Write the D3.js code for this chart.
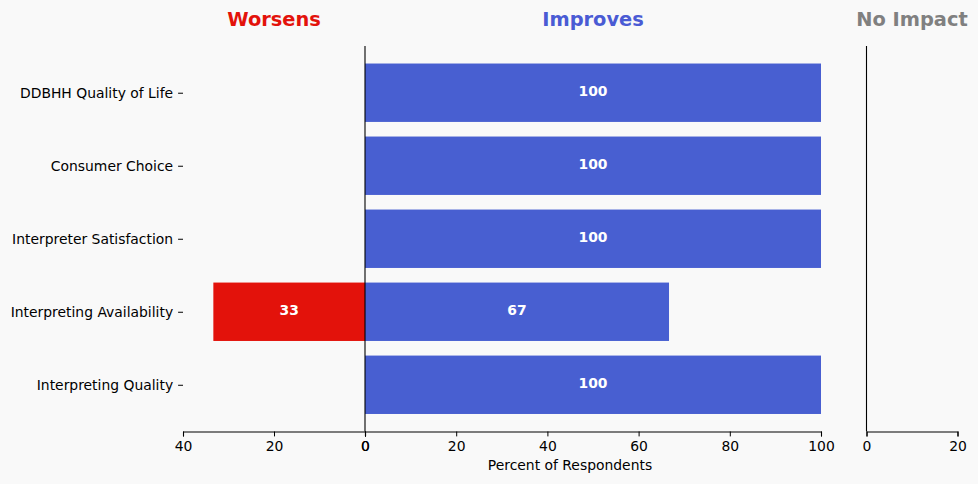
<!DOCTYPE html>
<html><head><meta charset="utf-8">
<script src="https://cdn.jsdelivr.net/npm/d3@7"></script>
<style>
body{margin:0;background:#f9f9f9;}
svg{display:block;font-family:"DejaVu Sans",sans-serif;}
</style></head>
<body><svg id="c" width="978" height="484"></svg>
<script>
const categories = ["DDBHH Quality of Life","Consumer Choice","Interpreter Satisfaction","Interpreting Availability","Interpreting Quality"];
const worsens = [0,0,0,33.33,0];
const improves = [100,100,100,66.67,100];
const noImpact = [0,0,0,0,0];
const panelTitles = ["Worsens","Improves","No Impact"];
const leftTicks = [40,20,0];
const midTicks = [0,20,40,60,80,100];
const rightTicks = [0,20];

(function(){
const svg = d3.select("#c");
svg.append("rect").attr("width",978).attr("height",484).attr("fill","#f9f9f9");
const plotTop = 46, plotBottom = 431.5;
const y = d3.scaleLinear().domain([-0.64,4.64]).range([plotTop,plotBottom]);
const xL = d3.scaleLinear().domain([40,0]).range([183,365]);
const xM = d3.scaleLinear().domain([0,100]).range([365,821]);
const xR = d3.scaleLinear().domain([0,20]).range([866.5,957.5]);
const red="#e3120b", blue="#485fd1", fs=13.9, tk=4.9;

function bars(data,x,color){
  const g=svg.append("g");
  categories.forEach((c,i)=>{
    const v=data[i]; if(!v) return;
    const x0=x(0), x1=x(v);
    g.append("rect").attr("x",Math.min(x0,x1)).attr("width",Math.abs(x1-x0))
     .attr("y",y(i-0.4)).attr("height",y(i+0.4)-y(i-0.4)).attr("fill",color);
    g.append("text").attr("x",(x0+x1)/2).attr("y",y(i)).attr("dy","0.25em")
     .attr("text-anchor","middle").attr("fill","white").attr("font-weight","bold")
     .attr("font-size",fs).text(Math.round(v));
  });
}
bars(worsens,xL,red);
bars(improves,xM,blue);
bars(noImpact,xR,"#808080");

function xaxis(x,ticks){
  const g=svg.append("g").attr("transform",`translate(0,${plotBottom})`)
    .call(d3.axisBottom(x).tickValues(ticks).tickSize(tk).tickPadding(4.5).tickFormat(d3.format("d")));
  g.select(".domain").attr("stroke","#000").attr("stroke-width",1.1);
  g.selectAll(".tick line").attr("stroke","#000");
  g.selectAll("text").attr("font-size",fs).attr("fill","#000").attr("font-family","DejaVu Sans");
}
xaxis(xL,leftTicks); xaxis(xM,midTicks); xaxis(xR,rightTicks);

[xM(0),xR(0)].forEach(px=>{
  svg.append("line").attr("x1",px).attr("x2",px).attr("y1",plotTop).attr("y2",plotBottom)
    .attr("stroke","#000").attr("stroke-width",1.1);
});

const ya=svg.append("g").attr("transform","translate(183,0)")
 .call(d3.axisLeft(y).tickValues(d3.range(categories.length)).tickSize(tk).tickPadding(5).tickFormat(i=>categories[i]));
ya.select(".domain").remove();
ya.selectAll(".tick line").attr("stroke","#000");
ya.selectAll("text").attr("font-size",fs).attr("fill","#000").attr("font-family","DejaVu Sans");

svg.append("text").attr("x",570).attr("y",470).attr("text-anchor","middle")
  .attr("font-size",fs).attr("fill","#000").text("Percent of Respondents");

const titleX=[(xL.range()[0]+xL.range()[1])/2, xM(50), (xR.range()[0]+xR.range()[1])/2];
const titleC=[red,"#4a5bd4","#808080"];
panelTitles.forEach((t,i)=>{
  svg.append("text").attr("x",titleX[i]).attr("y",25.5).attr("text-anchor","middle")
   .attr("font-size",19.4).attr("font-weight","bold").attr("fill",titleC[i]).text(t);
});
})();
</script></body></html>
